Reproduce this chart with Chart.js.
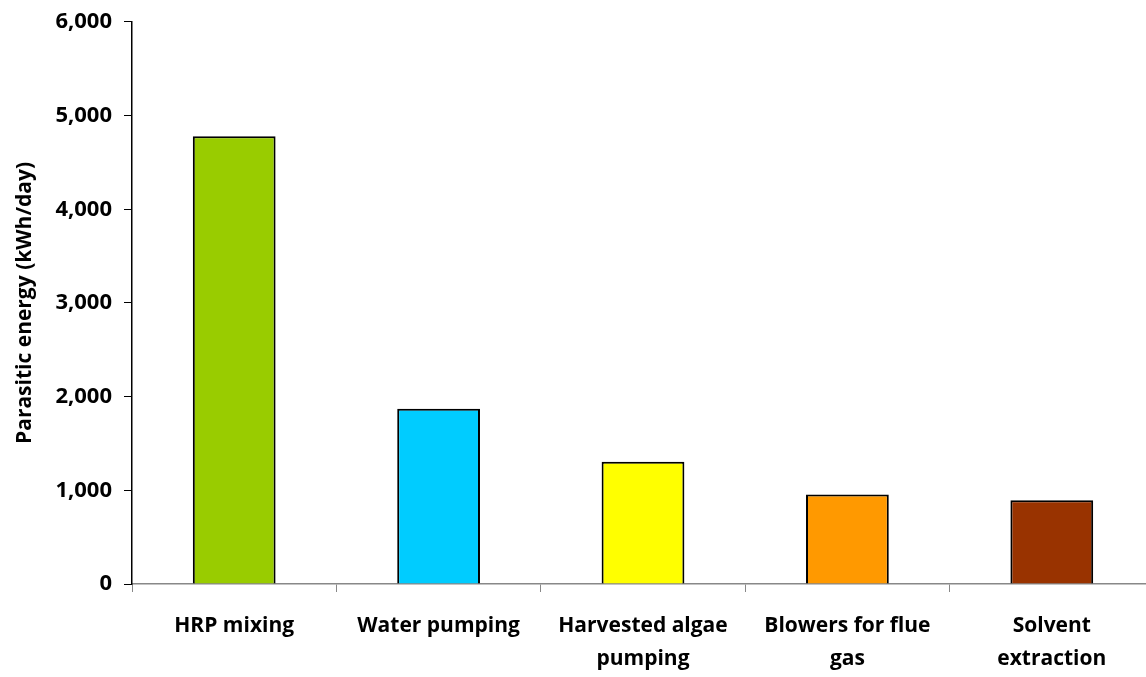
<!DOCTYPE html>
<html>
<head>
<meta charset="utf-8">
<script src="https://cdn.jsdelivr.net/npm/chart.js@4/dist/chart.umd.min.js"></script>
<style>
    html, body { margin: 0; padding: 0; background: #fff; overflow: hidden; }
    #wrap { width: 1154px; height: 677px; }
</style>
</head>
<body>
<div id="wrap"><canvas id="energyChart"></canvas></div>
<script>
// Data
const categories = [
    ["HRP mixing"],
    ["Water pumping"],
    ["Harvested algae", "pumping"],
    ["Blowers for flue", "gas"],
    ["Solvent", "extraction"],
];
const energyValues = [4780, 1870, 1305, 955, 893];
const barColors = ["#99cc00", "#00ccff", "#ffff00", "#ff9900", "#993300"];
const yTicks = [0, 1000, 2000, 3000, 4000, 5000, 6000];

const fontFamily = "'Open Sans', 'Noto Sans', sans-serif";

const ctx = document.getElementById("energyChart");
new Chart(ctx, {
    type: "bar",
    data: {
        labels: categories,
        datasets: [
            {
                label: "Parasitic energy",
                data: energyValues,
                backgroundColor: barColors,
                borderColor: "#000",
                borderWidth: 2,
                borderSkipped: "bottom",
                barPercentage: 0.405,
                categoryPercentage: 1,
            },
        ],
    },
    options: {
        responsive: true,
        maintainAspectRatio: false,
        animation: false,
        layout: { padding: { top: 20, right: 0, bottom: 0, left: 0 } },
        plugins: {
            legend: { display: false },
            tooltip: { enabled: false },
        },
        scales: {
            x: {
                grid: {
                    offset: true,
                    drawOnChartArea: false,
                    tickLength: 8,
                    color: "#888",
                },
                border: { color: "#888", width: 1.5 },
                ticks: {
                    color: "#000",
                    maxRotation: 0,
                    autoSkip: false,
                    padding: 17,
                    font: { family: fontFamily, size: 21, weight: "bold", lineHeight: 1.6 },
                },
                afterFit: (scale) => { scale.height = 93; },
            },
            y: {
                min: 0,
                max: 6000,
                afterBuildTicks: (scale) => {
                    scale.ticks = yTicks.map((v) => ({ value: v }));
                },
                grid: {
                    drawOnChartArea: false,
                    tickLength: 8,
                    color: "#000",
                },
                border: { color: "#000", width: 1.5 },
                ticks: {
                    color: "#000",
                    padding: 12,
                    font: { family: fontFamily, size: 22, weight: "bold", lineHeight: 0.9 },
                    callback: (v) => v.toLocaleString("en-US"),
                },
                title: {
                    display: true,
                    text: "Parasitic energy (kWh/day)",
                    color: "#000",
                    padding: { top: 12, bottom: 0 },
                    font: { family: fontFamily, size: 21, weight: "bold" },
                },
                afterFit: (scale) => { scale.width = 132; },
            },
        },
    },
});
</script>
</body>
</html>
